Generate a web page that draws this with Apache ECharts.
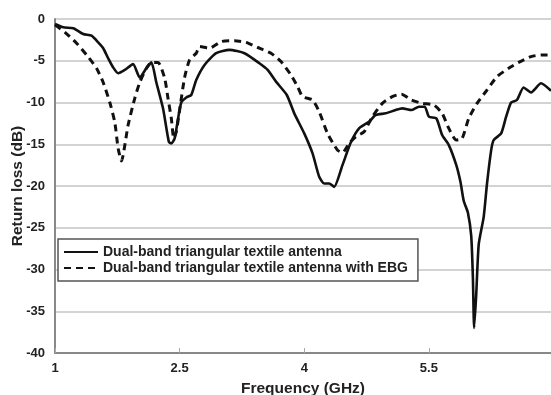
<!DOCTYPE html>
<html><head><meta charset="utf-8">
<script src="https://cdn.jsdelivr.net/npm/echarts@6/dist/echarts.min.js"></script>
<style>html,body{margin:0;padding:0;background:#fff}#c{width:551px;height:395px}</style>
</head><body><div id="c"></div>
<script>
var seriesNames = ['Dual-band triangular textile antenna', 'Dual-band triangular textile antenna with EBG'];
var xTicks = [1, 2.5, 4, 5.5];
var yTicks = [0, -5, -10, -15, -20, -25, -30, -35, -40];

var freqSolid = [1.00,1.10,1.22,1.34,1.44,1.52,1.58,1.64,1.70,1.76,1.84,1.94,2.02,2.10,2.16,2.22,2.30,2.37,2.40,2.44,2.48,2.52,2.58,2.64,2.70,2.80,2.94,3.10,3.28,3.46,3.56,3.66,3.79,3.88,4.00,4.10,4.18,4.24,4.30,4.36,4.46,4.56,4.66,4.78,4.86,4.98,5.10,5.18,5.29,5.38,5.45,5.50,5.59,5.66,5.74,5.83,5.88,5.92,5.97,6.01,6.03,6.045,6.07,6.10,6.16,6.20,6.25,6.28,6.37,6.43,6.49,6.56,6.64,6.73,6.85,6.97];
var rlSolid = [-0.6,-1.0,-1.1,-1.8,-2.0,-2.8,-3.5,-4.7,-5.8,-6.5,-6.1,-5.4,-7.0,-5.9,-5.2,-7.6,-10.7,-14.7,-14.9,-14.3,-12.0,-10.0,-9.4,-9.1,-7.3,-5.5,-4.1,-3.7,-4.1,-5.3,-6.1,-7.5,-9.1,-11.3,-13.7,-16.1,-18.9,-19.7,-19.7,-20.1,-17.5,-14.8,-13.1,-12.3,-11.5,-11.3,-10.9,-10.7,-10.9,-10.5,-10.5,-11.7,-11.9,-13.9,-15.1,-17.5,-19.5,-21.8,-23.2,-26.0,-31.0,-37.0,-33.0,-27.0,-23.7,-19.7,-15.7,-14.5,-13.7,-11.7,-10.0,-9.7,-8.2,-8.8,-7.7,-8.6];

var freqEbg = [1.00,1.12,1.26,1.38,1.50,1.58,1.66,1.72,1.76,1.80,1.88,1.96,2.02,2.10,2.16,2.24,2.32,2.36,2.40,2.43,2.46,2.50,2.56,2.62,2.70,2.74,2.86,3.00,3.16,3.30,3.46,3.60,3.72,3.84,3.92,3.98,4.10,4.18,4.28,4.40,4.46,4.54,4.62,4.72,4.82,4.94,5.06,5.17,5.29,5.42,5.56,5.66,5.74,5.83,5.90,5.98,6.08,6.20,6.32,6.46,6.58,6.73,6.86,6.97];
var rlEbg = [-0.7,-1.6,-2.9,-4.3,-5.9,-7.6,-10.0,-12.4,-15.5,-17.0,-12.7,-9.5,-7.6,-5.9,-5.2,-5.2,-7.1,-9.5,-11.9,-14.3,-13.5,-10.9,-7.0,-4.9,-4.1,-3.3,-3.5,-2.7,-2.6,-2.8,-3.5,-4.1,-5.1,-6.7,-8.1,-9.3,-9.7,-11.1,-13.7,-15.7,-16.0,-14.9,-14.1,-13.5,-11.7,-10.1,-9.3,-9.0,-9.7,-10.1,-10.3,-11.3,-13.1,-14.5,-14.3,-11.9,-10.1,-8.5,-6.9,-5.9,-5.2,-4.5,-4.3,-4.3];

function pairs(xs, ys){ return xs.map(function(x,i){ return [x, ys[i]]; }); }

var chart = echarts.init(document.getElementById('c'), null, {renderer:'canvas'});
var font = 'Liberation Sans, Arial, sans-serif';
chart.setOption({
  animation: false,
  backgroundColor: '#fff',
  grid: {left: 55, top: 19, right: 0, bottom: 42, containLabel: false, outerBoundsMode: 'none'},
  legend: {
    orient: 'vertical', left: 58, top: 239,
    padding: [6, 10, 6, 5], itemGap: 2,
    borderColor: '#555', borderWidth: 1.5, backgroundColor: '#fff',
    itemWidth: 34, itemHeight: 14,
    itemStyle: {opacity: 0},
    textStyle: {fontFamily: font, fontWeight: 'bold', fontSize: 14, color: '#222'},
    data: [seriesNames[0], seriesNames[1]]
  },
  xAxis: {
    type: 'value', min: 1, max: 6.97, interval: 1.5,
    name: 'Frequency (GHz)', nameLocation: 'middle', nameGap: 28,
    nameTextStyle: {fontFamily: font, fontWeight: 'bold', fontSize: 15.5, color: '#222'},
    axisLine: {show: true, onZero: false, lineStyle: {color: '#888', width: 2}},
    axisTick: {show: true, inside: true, length: 5, lineStyle: {color: '#aaa', width: 1}},
    axisLabel: {fontFamily: font, fontWeight: 'bold', fontSize: 13, color: '#222', margin: 9,
      formatter: function(v){ return xTicks.indexOf(Math.round(v*10)/10) >= 0 ? String(v) : ''; }},
    splitLine: {show: false}
  },
  yAxis: {
    type: 'value', min: -40, max: 0, interval: 5,
    name: 'Return loss (dB)', nameLocation: 'middle', nameGap: 29, nameRotate: 90, nameMoveOverlap: false,
    nameTextStyle: {fontFamily: font, fontWeight: 'bold', fontSize: 15.5, color: '#222'},
    axisLine: {show: true, onZero: false, lineStyle: {color: '#888', width: 2}},
    axisTick: {show: false},
    axisLabel: {fontFamily: font, fontWeight: 'bold', fontSize: 13, color: '#222', margin: 10,
      formatter: function(v){ return yTicks.indexOf(v) >= 0 ? String(v) : ''; }},
    splitLine: {show: true, lineStyle: {color: '#c4c4c4', width: 1.5}}
  },
  series: [
    {name: seriesNames[0], type: 'line', data: pairs(freqSolid, rlSolid), symbol: 'none', smooth: 0.2,
     lineStyle: {color: '#111', width: 2.6, type: 'solid'}, itemStyle: {color: '#111'}, z: 3},
    {name: seriesNames[1], type: 'line', data: pairs(freqEbg, rlEbg), symbol: 'none', smooth: 0.2,
     lineStyle: {color: '#111', width: 3, type: [7, 5]}, itemStyle: {color: '#111'}, z: 2}
  ]
});
</script></body></html>
